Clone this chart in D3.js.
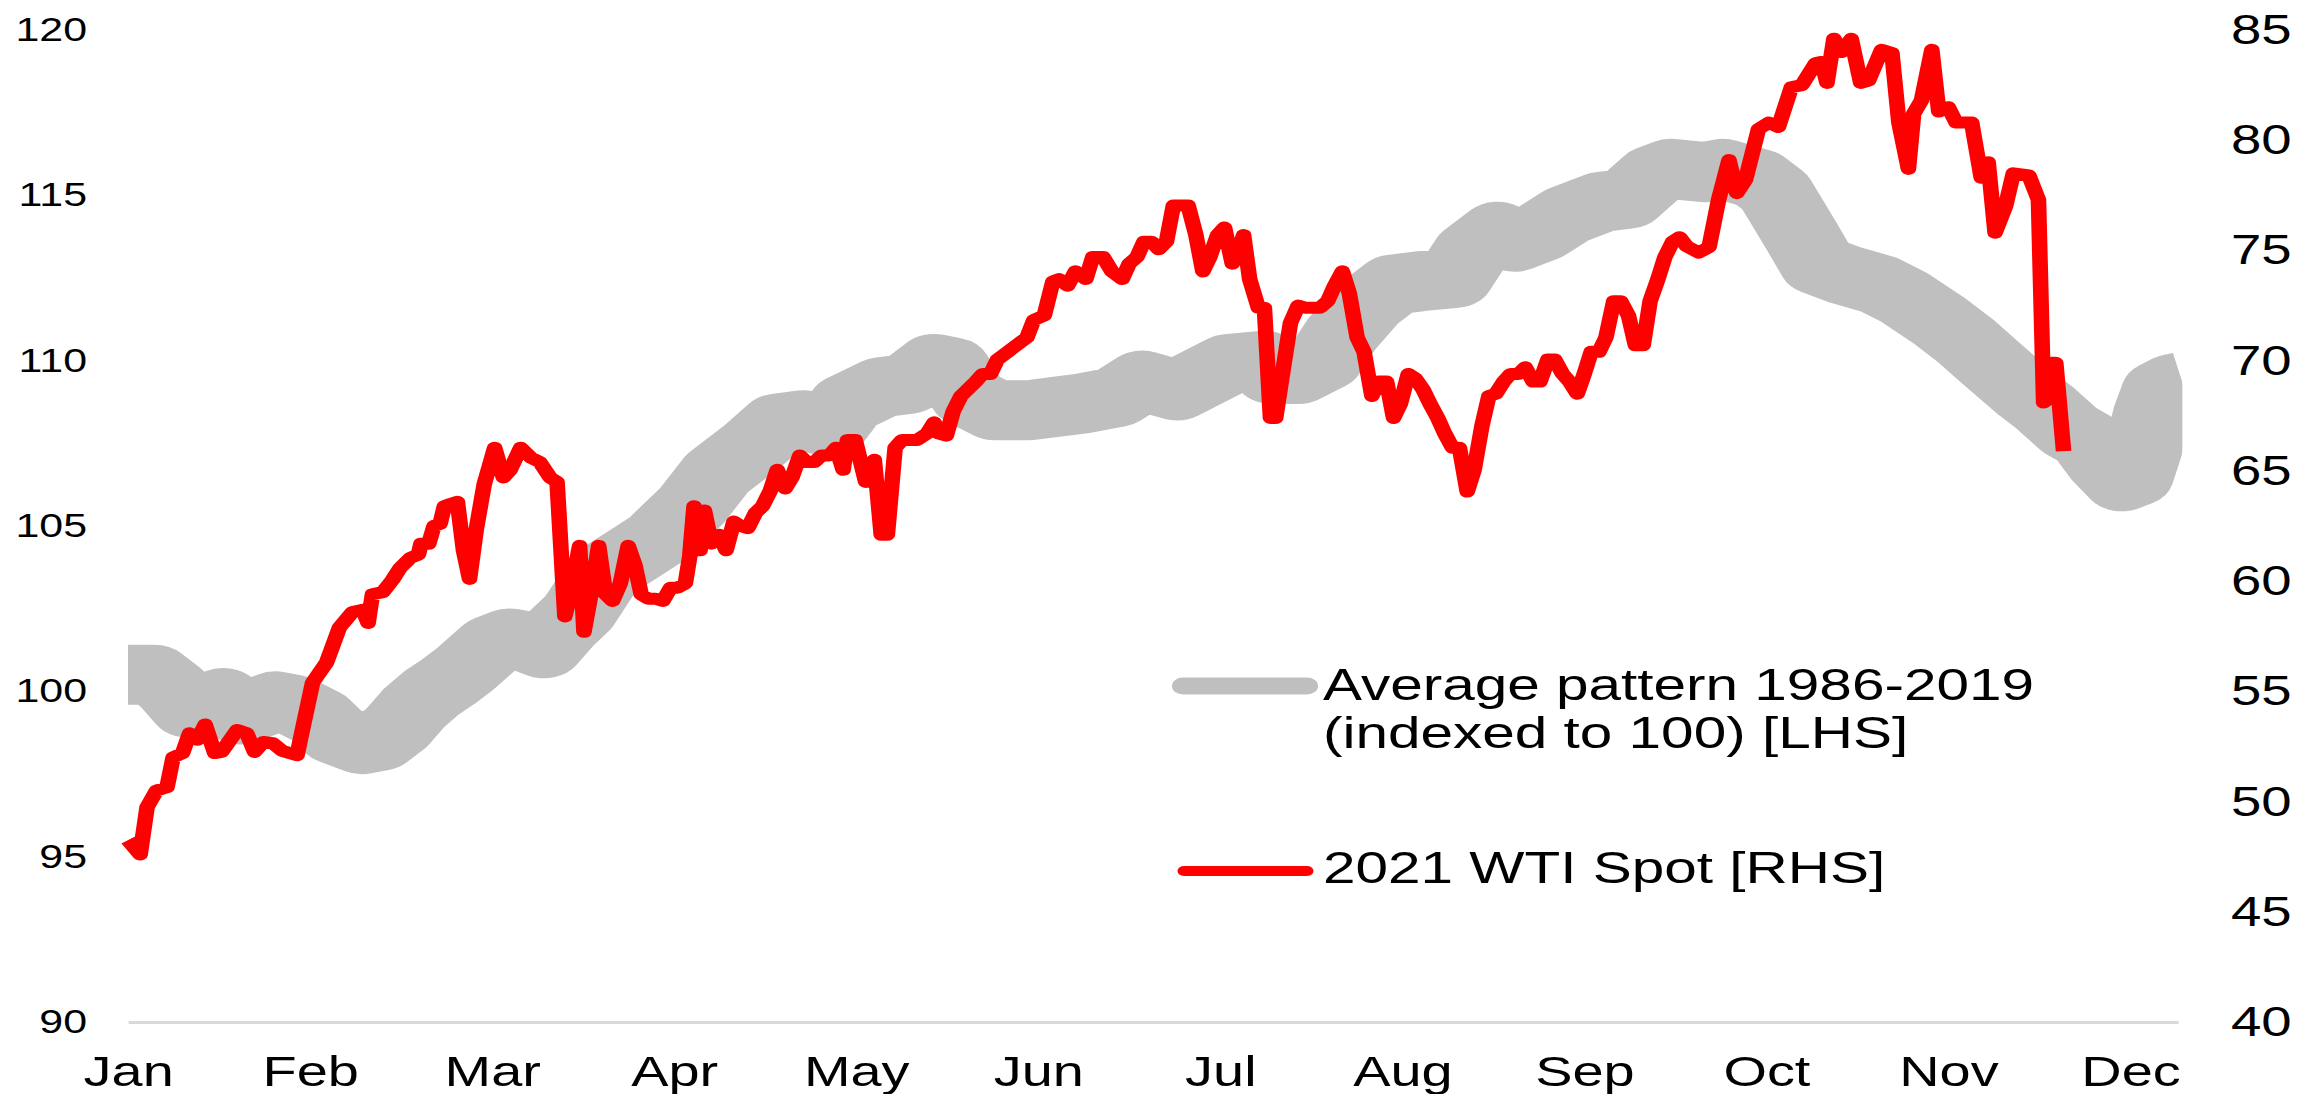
<!DOCTYPE html>
<html>
<head>
<meta charset="utf-8">
<script src="https://cdn.jsdelivr.net/npm/d3@7"></script>
<style>
  body { margin: 0; background: #fff; }
  svg { display: block; font-family: "Liberation Sans", Arial, sans-serif; }
</style>
</head>
<body>
<div id="chart"></div>
<script>
// month labels sit every 21 trading days
var monthLabels = ['Jan','Feb','Mar','Apr','May','Jun','Jul','Aug','Sep','Oct','Nov','Dec'];
var monthDay = [0,21,42,63,84,105,126,147,168,189,210,231];
var lhsTicks = [90,95,100,105,110,115,120];
var rhsTicks = [40,45,50,55,60,65,70,75,80,85];
var seriesNames = ['Average pattern 1986-2019', '(indexed to 100) [LHS]', '2021 WTI Spot [RHS]'];

// average seasonal pattern, trading day vs index level (LHS)
var avgDay = [0,3,5,7,9,11,13,15,17,19,22,24,27,29,31,33,35,37,39,42,44,46,48,50,52,55,58,61,65,68,
  72,75,78,81,83,87,90,93,95,97,100,104,107,110,114,117,121,124,127,131,132,135,138,140,143,146,149,
  153,155,158,160,163,166,170,173,176,178,182,184,188,190,193,195,198,202,205,209,212,215,219,221,224,
  226,228,230,231.5,232.5,233.5,234.5,236,237];
var avgIndex = [100.5,100.5,100.1,99.5,99.6,99.8,99.3,99.5,99.7,99.6,99.2,98.7,98.4,98.5,98.9,99.5,99.95,
  100.3,100.7,101.4,101.6,101.5,101.3,101.9,102.4,103.6,104.1,104.6,105.6,106.6,107.4,108.1,108.2,108.0,
  108.7,109.2,109.3,109.9,109.8,108.9,108.5,108.5,108.6,108.7,108.9,109.4,109.1,109.5,109.9,110.0,109.6,
  109.6,110.0,110.8,111.7,112.3,112.4,112.5,113.3,113.9,113.6,113.9,114.4,114.8,114.9,115.6,115.8,115.7,
  115.8,115.5,115.1,113.8,112.9,112.6,112.3,111.9,111.2,110.6,109.9,109.0,108.6,107.9,107.6,106.9,106.35,
  106.5,107.3,108.4,109.1,109.3,109.35];

// 2021 WTI spot, trading day vs USD/bbl (RHS)
var wtiDay = [0,1.4,2.2,3.3,4.5,5.2,6.3,7.1,8,8.9,10,10.8,12.6,13.7,14.6,15.6,16.7,17.8,19.5,20.2,21.3,
  22.9,24.4,25.9,27.1,27.7,28.2,29.4,30.5,31.4,32.6,33.5,33.8,34.7,35.3,36,36.5,37.2,38,38.7,39.4,40.2,
  41.1,42.3,43.3,44.1,45.3,46.5,47.5,48.7,49.5,50.4,51.2,52.1,52.6,53.4,54.3,55.1,55.9,56.8,57.7,58.5,
  59.2,60,60.9,61.7,62.6,63.4,64.3,64.8,65.3,66,66.5,67.3,68.2,69,69.9,70.7,71.5,72.4,73.2,74.1,74.9,
  75.8,76.6,77.5,78.3,79.2,80,80.9,81.7,82.5,83,83.9,85.1,86.1,86.9,87.6,88.5,89.3,90.2,91,92.2,93,93.5,
  94.4,95.2,96.1,96.9,97.8,98.6,99.5,100.3,101.5,102.5,103.7,104.5,105.7,106.7,107.4,108.4,109.3,110.5,
  111.3,112.5,113.5,114.7,115.5,116.4,117.2,118.1,118.9,119.8,120.6,121.5,122.3,123.2,124,124.8,125.7,
  126.5,127.4,128.2,128.7,129.4,130.4,131.1,131.8,132.4,133.3,134.1,135,135.8,136.7,137.5,138.4,139.2,
  140.1,140.9,141.8,142.6,143.5,144.3,145.2,146,146.8,147.7,148.5,149.4,150.2,151.1,151.9,152.8,153.6,
  154.5,155.3,156.2,157,157.8,158.7,159.5,160.4,161.2,162.1,162.9,163.8,164.6,165.5,166.3,167.2,168,
  168.8,169.7,170.5,171.4,172.2,173.1,173.9,174.8,175.6,176.5,177.3,178.2,179,179.8,181.2,182.4,183.5,
  184.7,185.6,186.6,188.1,189.3,190.4,191.9,193.1,194.7,195.4,196,196.8,197.7,198.8,199.9,200.8,202.3,
  203.5,204.3,205.4,206,206.9,208.1,208.9,210,210.9,212.7,213.8,214.6,215.4,216.6,217.5,219.3,220.1,
  220.4,221,221.3,221.9,222.4,223.3];
var wtiPrice = [48.25,47.6,49.75,50.5,50.65,52,52.2,53.1,52.8,53.5,52.2,52.25,53.25,53.1,52.25,52.7,52.65,
  52.3,52.1,53.4,55.4,56.3,57.9,58.6,58.7,58.1,59.4,59.5,60.05,60.6,61.06,61.2,61.7,61.7,62.5,62.6,63.4,
  63.5,63.6,61.4,60.1,62.4,64.4,66.05,64.7,65.05,66.05,65.6,65.4,64.7,64.5,58.4,59.7,61.6,57.7,59.4,61.6,
  59.4,59.1,59.9,61.6,60.7,59.4,59.2,59.2,59.1,59.7,59.7,59.9,61.1,63.4,61.4,63.2,61.7,62.1,61.4,62.7,
  62.5,62.4,63.1,63.4,64.1,65.05,64.2,64.7,65.7,65.4,65.4,65.7,65.7,66.05,65.05,66.4,66.4,64.5,65.5,62.1,
  62.1,66.05,66.4,66.4,66.4,66.7,67.2,66.7,66.6,67.7,68.4,68.7,69.05,69.4,69.4,70.05,70.4,70.7,71.05,71.85,
  72.05,73.6,73.7,73.4,74.05,73.7,74.7,74.7,74.05,73.7,74.4,74.7,75.4,75.4,75.05,75.4,77.04,77.04,77.04,
  75.7,74.05,74.7,75.7,76.04,74.4,75.05,75.7,73.7,72.4,72.4,67.4,67.4,69.7,71.7,72.5,72.4,72.4,72.4,72.7,
  73.4,74.05,73.05,71.05,70.4,68.4,69.05,69.05,67.4,68.05,69.4,69.2,68.7,68.05,67.4,66.7,66.05,66.05,64.06,
  65.05,67.05,68.4,68.5,69.05,69.4,69.4,69.7,69.05,69.05,70.05,70.05,69.4,69.05,68.5,69.4,70.4,70.4,71.05,
  72.7,72.7,72.05,70.7,70.7,72.7,73.7,74.7,75.4,75.6,75.2,74.9,75.15,77.3,79.1,77.6,78.2,80.5,80.8,80.6,
  82.4,82.5,83.5,83.55,82.6,84.6,84,84.6,82.6,82.7,84.1,83.95,80.8,78.7,81.2,81.8,84.1,81.3,81.5,80.8,80.8,
  78.3,79,75.8,77,78.5,78.4,77.6,77.3,68.1,68.2,69.9,69.9,65.9];

var W = 2302, H = 1094;
var SX = 1.3; // the reference is stretched horizontally
var plotLeft = 128, plotRight = 2178, plotTop = 30, plotBottom = 1022;

var svg = d3.select('#chart').append('svg').attr('width', W).attr('height', H);
svg.append('rect').attr('width', W).attr('height', H).attr('fill', '#fff');
var g = svg.append('g').attr('transform', 'scale(' + SX + ',1)');

var x = d3.scaleLinear().domain([0, 236.5]).range([plotLeft / SX, plotRight / SX]);
var yL = d3.scaleLinear().domain([90, 120]).range([plotBottom, plotTop]);
var yR = d3.scaleLinear().domain([40, 85]).range([plotBottom, plotTop]);

// keep the thick band's ends square, like the original
g.append('clipPath').attr('id', 'avgClip')
  .append('rect')
  .attr('x', x(avgDay[0]))
  .attr('y', 0)
  .attr('width', x(avgDay[avgDay.length - 1]) - x(avgDay[0]))
  .attr('height', H);

// x axis
var xAxis = g.append('g')
  .attr('transform', 'translate(0,' + plotBottom + ')')
  .call(d3.axisBottom(x).tickValues(monthDay).tickFormat(function(d, i) { return monthLabels[i]; })
    .tickSize(0).tickSizeOuter(0));
xAxis.select('.domain').attr('stroke', '#d9d9d9').attr('stroke-width', 3);
xAxis.selectAll('text').attr('y', 64).attr('dy', 0)
  .attr('font-size', 43).attr('font-family', 'Liberation Sans, Arial, sans-serif').attr('fill', '#000');

// left axis
var lAxis = g.append('g')
  .attr('transform', 'translate(' + (plotLeft / SX) + ',0)')
  .call(d3.axisLeft(yL).tickValues(lhsTicks).tickSize(0));
lAxis.select('.domain').remove();
lAxis.selectAll('text').attr('x', (87 - plotLeft) / SX)
  .attr('font-size', 33).attr('font-family', 'Liberation Sans, Arial, sans-serif').attr('fill', '#000');

// right axis
var rAxis = g.append('g')
  .attr('transform', 'translate(' + (plotRight / SX) + ',0)')
  .call(d3.axisRight(yR).tickValues(rhsTicks).tickSize(0));
rAxis.select('.domain').remove();
rAxis.selectAll('text').attr('x', (2231 - plotRight) / SX)
  .attr('font-size', 42).attr('font-family', 'Liberation Sans, Arial, sans-serif').attr('fill', '#000');

// lines
var avgLine = d3.line()
  .x(function(d, i) { return x(avgDay[i]); })
  .y(function(d) { return yL(d); });
var wtiLine = d3.line()
  .x(function(d, i) { return x(wtiDay[i]); })
  .y(function(d) { return yR(d); });

g.append('path').datum(avgIndex)
  .attr('d', avgLine)
  .attr('clip-path', 'url(#avgClip)')
  .attr('fill', 'none')
  .attr('stroke', '#bfbfbf')
  .attr('stroke-width', 60)
  .attr('stroke-linejoin', 'round');

g.append('path').datum(wtiPrice)
  .attr('d', wtiLine)
  .attr('fill', 'none')
  .attr('stroke', '#ff0000')
  .attr('stroke-width', 12)
  .attr('stroke-linejoin', 'round');

// legend
var legend = g.append('g');
legend.append('line')
  .attr('x1', 1183 / SX).attr('x2', 1307 / SX).attr('y1', 686).attr('y2', 686)
  .attr('stroke', '#bfbfbf').attr('stroke-width', 17).attr('stroke-linecap', 'round');
legend.append('line')
  .attr('x1', 1184 / SX).attr('x2', 1307 / SX).attr('y1', 871).attr('y2', 871)
  .attr('stroke', '#ff0000').attr('stroke-width', 10).attr('stroke-linecap', 'round');

legend.selectAll('text')
  .data([[seriesNames[0], 700], [seriesNames[1], 748], [seriesNames[2], 883]])
  .enter()
  .append('text')
  .attr('x', 1323 / SX)
  .attr('y', function(d) { return d[1]; })
  .attr('font-size', 45)
  .attr('fill', '#000')
  .text(function(d) { return d[0]; });
</script>
</body>
</html>
